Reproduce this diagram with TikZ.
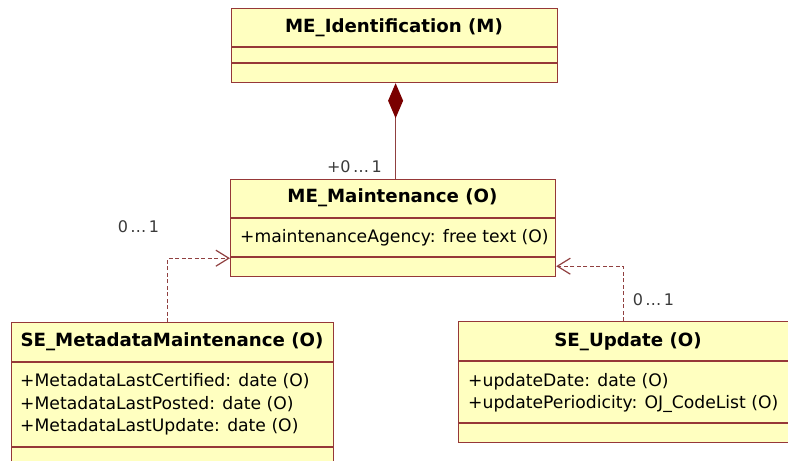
\documentclass[tikz,border=0pt]{standalone}
\usepackage{fontspec}
\setmainfont{DejaVu Sans}
\usetikzlibrary{arrows.meta}
\definecolor{classfill}{HTML}{FFFFC0}
\definecolor{classedge}{HTML}{963838}
\definecolor{linkcol}{HTML}{904040}
\definecolor{diamondcol}{HTML}{7A0000}
\definecolor{labelcol}{HTML}{3A3A3A}
\newcommand{\multdots}{0\kern2.5pt…\kern2.5pt1}
\tikzset{
  classbox/.style={draw=classedge, fill=classfill, line width=1.2pt, inner sep=0pt, anchor=north west},
  divider/.style={draw=classedge, line width=1.2pt},
  classtitle/.style={font=\fontsize{18.2}{21}\selectfont\bfseries, inner sep=0pt},
  attr/.style={font=\fontsize{17.2}{20}\selectfont, inner sep=0pt, anchor=west},
  mult/.style={font=\fontsize{16}{18}\selectfont, text=labelcol, inner sep=0pt},
  composition/.style={draw=linkcol, line width=1.2pt,
    {Diamond[length=35pt,width=15pt,fill=diamondcol,color=diamondcol]}-},
  dependency/.style={draw=linkcol, line width=1.2pt, dash pattern=on 4pt off 2.5pt,
    -{Straight Barb[length=13pt,width=16pt,line width=1.2pt]}},
}
\begin{document}
\begin{tikzpicture}[x=1pt, y=-1pt]
\useasboundingbox (0,0) rectangle (788,461);

% ME_Identification
\node[classbox, minimum width=326pt, minimum height=74pt] (ident) at (231,8) {};
\draw[divider] ([yshift=-39pt]ident.north west) -- ([yshift=-39pt]ident.north east);
\draw[divider] ([yshift=-55pt]ident.north west) -- ([yshift=-55pt]ident.north east);
\node[classtitle] (identT) at (394,28) {ME\_Identification (M)};

% ME_Maintenance
\node[classbox, minimum width=325pt, minimum height=97pt] (maint) at (230,179) {};
\draw[divider] ([yshift=-39pt]maint.north west) -- ([yshift=-39pt]maint.north east);
\draw[divider] ([yshift=-78pt]maint.north west) -- ([yshift=-78pt]maint.north east);
\node[classtitle] (maintT) at (392.5,198) {ME\_Maintenance (O)};
\node[attr] (maintA) at (240,238) {+maintenanceAgency: free text (O)};

% SE_MetadataMaintenance
\node[classbox, minimum width=322pt, minimum height=150pt] (meta) at (11,322) {};
\draw[divider] ([yshift=-40pt]meta.north west) -- ([yshift=-40pt]meta.north east);
\draw[divider] ([yshift=-125pt]meta.north west) -- ([yshift=-125pt]meta.north east);
\node[classtitle] (metaT) at (172,342) {SE\_MetadataMaintenance (O)};
\node[attr] (metaA1) at (20,381) {+MetadataLastCertified: date (O)};
\node[attr] (metaA2) at (20,404) {+MetadataLastPosted: date (O)};
\node[attr] (metaA3) at (20,427) {+MetadataLastUpdate: date (O)};

% SE_Update
\node[classbox, minimum width=340pt, minimum height=121pt] (upd) at (458,321) {};
\draw[divider] ([yshift=-40pt]upd.north west) -- ([yshift=-40pt]upd.north east);
\draw[divider] ([yshift=-102pt]upd.north west) -- ([yshift=-102pt]upd.north east);
\node[classtitle] (updT) at (628,342) {SE\_Update (O)};
\node[attr] (updA1) at (468,382) {+updateDate: date (O)};
\node[attr] (updA2) at (468,404) {+updatePeriodicity: OJ\_CodeList (O)};

% Connectors
\draw[composition] ([xshift=1pt]ident.south) -- ([xshift=1pt]ident.south |- maint.north);
\node[mult, anchor=east] (m1) at (382,167) {+\multdots};

\draw[dependency] ([xshift=-5pt]meta.north) |- ([yshift=19pt]maint.south west);
\node[mult] (m2) at (138.5,227) {\multdots};

\draw[dependency] ([xshift=-5pt]upd.north) |- ([yshift=11pt]maint.south east);
\node[mult] (m3) at (653.5,300) {\multdots};
\end{tikzpicture}
\end{document}
